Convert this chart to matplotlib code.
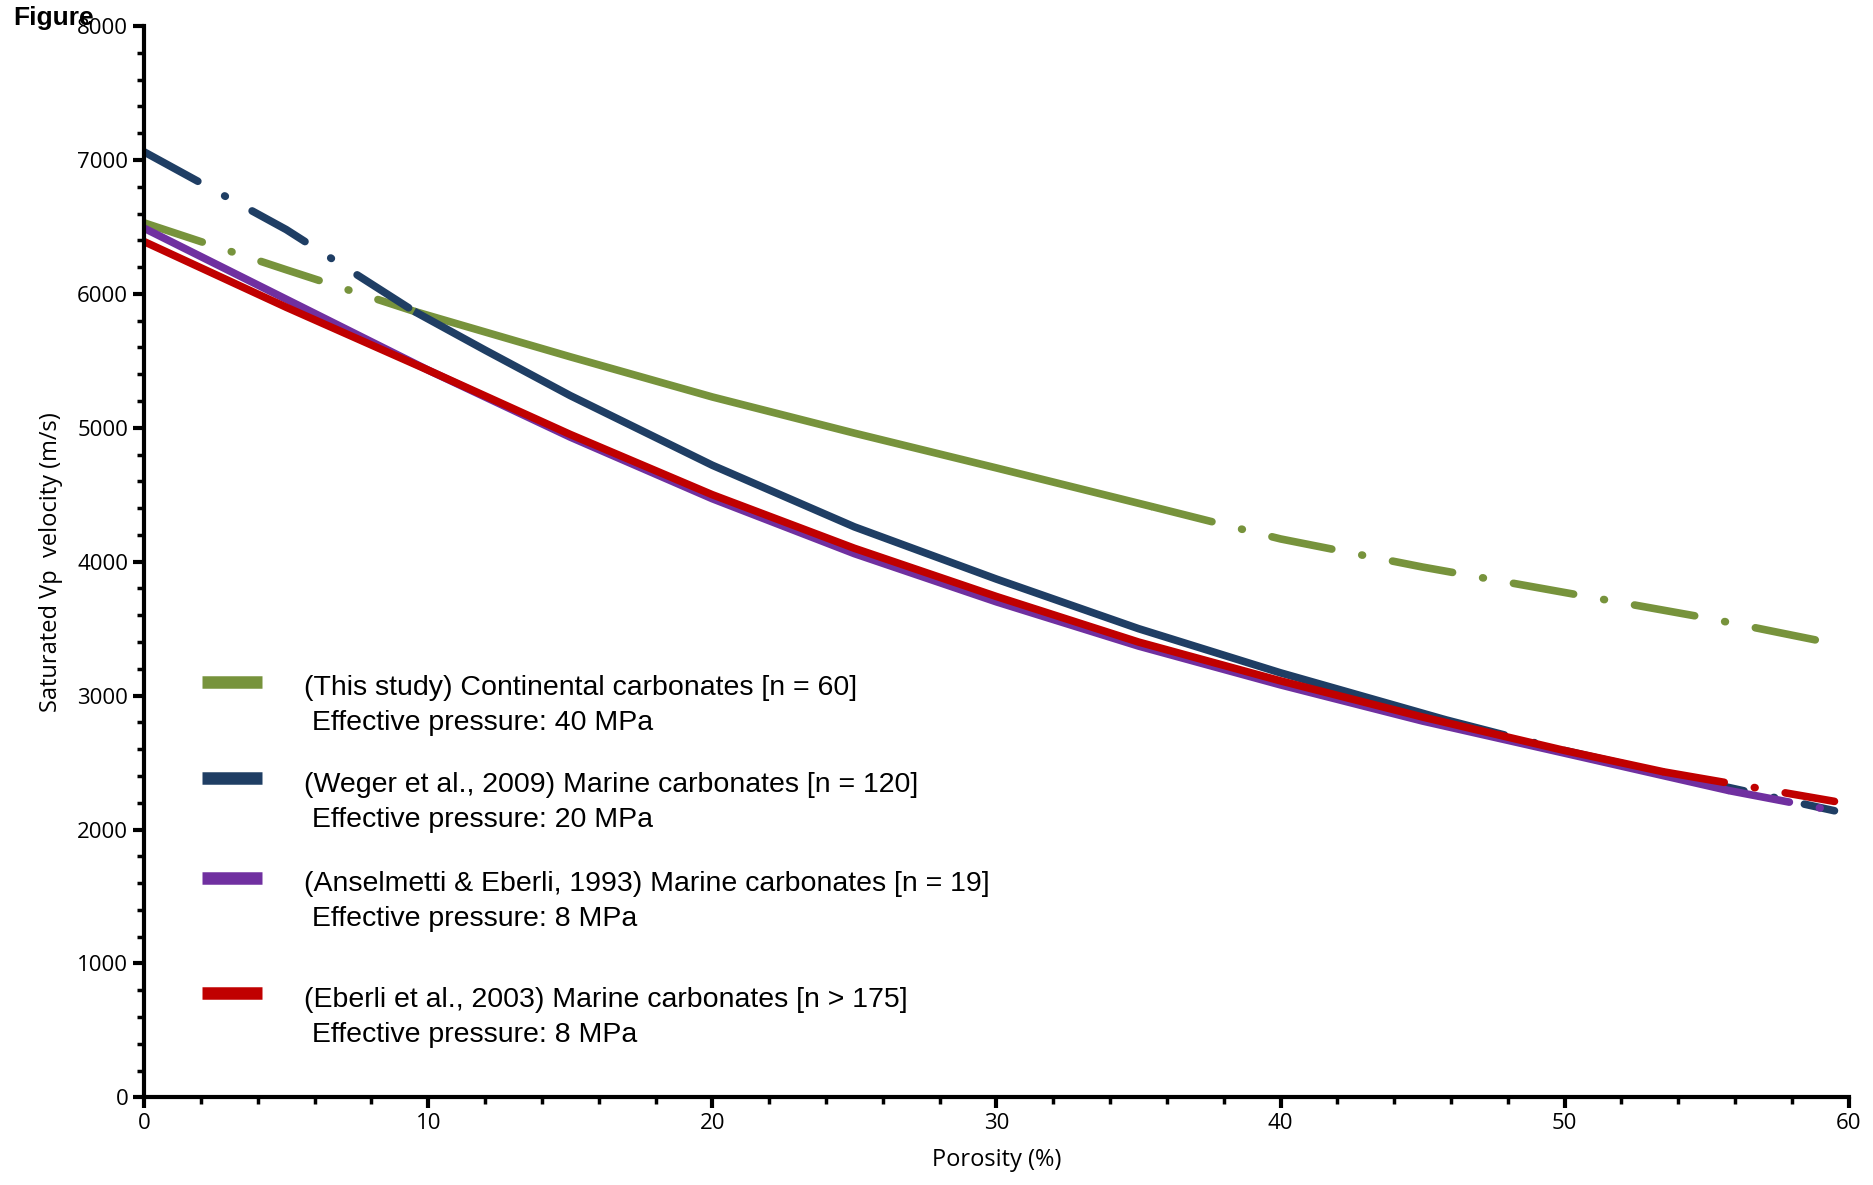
import matplotlib.pyplot as plt
import numpy as np

# porosity (%) / Vp (m/s)
green_phi = [0, 5, 9.5, 15, 20, 25, 30, 35.5, 40, 45, 50, 55, 59.2]
green_vp = [6530, 6180, 5870, 5530, 5230, 4960, 4700, 4410, 4170, 3960, 3770, 3580, 3400]
navy_phi = [0, 5, 9.5, 12, 15, 20, 25, 30, 35, 40, 45.8, 50, 55, 59.5]
navy_vp = [7060, 6480, 5870, 5580, 5240, 4720, 4260, 3870, 3500, 3170, 2820, 2590, 2350, 2140]
purple_phi = [0, 5, 10, 15, 20, 25, 30, 35, 40, 45, 50, 55.8, 59.5]
purple_vp = [6490, 5960, 5430, 4930, 4470, 4060, 3700, 3370, 3080, 2810, 2570, 2290, 2140]
red_phi = [0, 5, 10, 15, 20, 25, 30, 35, 40, 45, 50, 53.5, 59.5]
red_vp = [6390, 5900, 5430, 4950, 4500, 4100, 3740, 3400, 3110, 2840, 2590, 2430, 2210]

green, navy, purple, red = '#77933c', '#1f3e64', '#7030a0', '#c00000'
labels = ['(This study) Continental carbonates [n = 60]\n Effective pressure: 40 MPa',
          '(Weger et al., 2009) Marine carbonates [n = 120]\n Effective pressure: 20 MPa',
          '(Anselmetti & Eberli, 1993) Marine carbonates [n = 19]\n Effective pressure: 8 MPa',
          '(Eberli et al., 2003) Marine carbonates [n > 175]\n Effective pressure: 8 MPa']

fig = plt.figure(figsize=(18.73, 11.85), dpi=100)
ax = fig.add_axes([0.077, 0.074, 0.910, 0.904])
lw = 5.5
dashdot = (0, (8, 4, 0.1, 4))


def seg(phi, vp, lo, hi):
    phi = np.array(phi); vp = np.array(vp)
    m = (phi >= lo) & (phi <= hi)
    return phi[m], vp[m]


def draw(phi, vp, color, breaks, styles):
    for (lo, hi), st in zip(breaks, styles):
        x, y = seg(phi, vp, lo, hi)
        ax.plot(x, y, color=color, lw=lw, ls=st, solid_capstyle='butt', dash_capstyle='round')

draw(green_phi, green_vp, green, [(0, 9.5), (9.5, 35.5), (35.5, 60)], [dashdot, '-', dashdot])
draw(navy_phi, navy_vp, navy, [(0, 9.5), (9.5, 45.8), (45.8, 60)], [dashdot, '-', dashdot])
draw(purple_phi, purple_vp, purple, [(0, 55.8), (55.8, 60)], ['-', dashdot])
draw(red_phi, red_vp, red, [(0, 53.5), (53.5, 60)], ['-', dashdot])

# legend drawn by hand: handle sits level with the first label line
leg_y = [0.388, 0.298, 0.205, 0.097]
for c, lab, y in zip((green, navy, purple, red), labels, leg_y):
    ax.plot([0.034, 0.069], [y, y], color=c, lw=9, transform=ax.transAxes, solid_capstyle='butt')
    ax.text(0.094, y + 0.006, lab, transform=ax.transAxes, va='top', fontsize=20.5,
            family='Liberation Sans', linespacing=1.45)

ax.set_xlim(0, 60)
ax.set_ylim(0, 8000)
ax.set_xticks(range(0, 61, 10))
ax.set_xticks(range(0, 61, 2), minor=True)
ax.set_yticks(range(0, 8001, 1000))
ax.set_yticks(range(0, 8001, 200), minor=True)
for s in ('top', 'right'):
    ax.spines[s].set_visible(False)
for s in ('left', 'bottom'):
    ax.spines[s].set_linewidth(3)
ax.tick_params(which='major', length=8, width=3, labelsize=16)
ax.tick_params(which='minor', length=5, width=2.5)
for t in ax.get_xticklabels() + ax.get_yticklabels():
    t.set_family('Open Sans')
ax.set_xlabel('Porosity (%)', fontsize=17, family='Open Sans', labelpad=10)
ax.set_ylabel('Saturated Vp  velocity (m/s)', fontsize=17, family='Open Sans', labelpad=10)
fig.text(0.007, 0.975, 'Figure', fontsize=19, weight='bold', family='Liberation Sans', va='bottom')

fig.savefig('out.png')
